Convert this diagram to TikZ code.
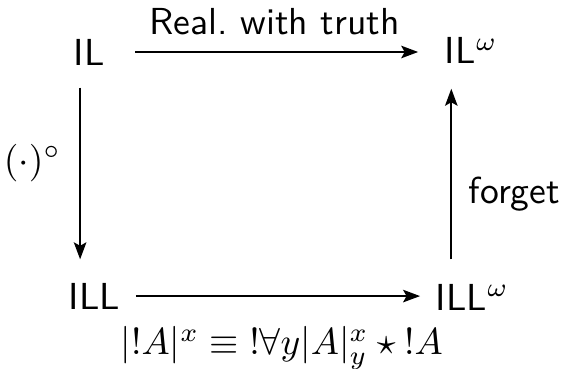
\documentclass[tikz,border=0pt]{standalone}
\usepackage{tikz,amsmath,amssymb}
\usetikzlibrary{arrows.meta}

\begin{document}
\begin{tikzpicture}[font=\sffamily, x=1pt, y=1pt,
  obj/.style={inner sep=0pt, anchor=base west},
  map/.style={semithick, -{Stealth[length=4.5pt, width=3.3pt, inset=0.9pt]}}]
  \useasboundingbox (0,0) rectangle (149.7,-98.1);
  % the four corners of the square
  \node[obj] (IL)   at (19.4,-17.3)  {IL};
  \node[obj] (ILw)  at (118.1,-17.0) {IL$^\omega$};
  \node[obj] (ILL)  at (18.1,-82.2)  {ILL};
  \node[obj] (ILLw) at (115.7,-82.5) {ILL$^\omega$};
  \coordinate (a) at ([xshift=1.9pt]IL.south west);
  \coordinate (b) at ([xshift=1.9pt]ILw.south west);
  \draw[map, shorten <=8pt, shorten >=6.9pt] (IL.east) --
    node[above=0.9pt] {Real.\ with truth} (IL.east -| ILw.west);
  \draw[map, shorten <=5.8pt, shorten >=6.1pt] (a) --
    node[left=1.5pt, pos=0.45] {$(\cdot)^\circ$} (a |- ILL.north);
  \draw[map, shorten <=6.4pt, shorten >=6.4pt] (b |- ILLw.north) --
    node[right=1pt, pos=0.41] {forget} (b);
  \draw[map, shorten <=4pt, shorten >=4pt] (ILL.east) --
    node[below=4.5pt, xshift=1pt] {$|{!}A|^x \equiv {!}\forall y|A|^x_y \star {!}A$} (ILL.east -| ILLw.west);
\end{tikzpicture}
\end{document}
